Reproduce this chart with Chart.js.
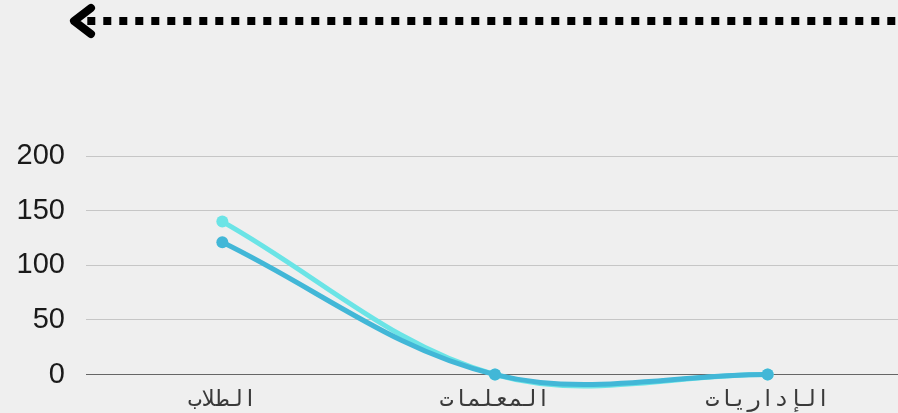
<!DOCTYPE html>
<html>
<head>
<meta charset="utf-8">
<script src="https://cdn.jsdelivr.net/npm/chart.js@4"></script>
<style>
    html, body {
        margin: 0;
        padding: 0;
        background: #efefef;
        overflow: hidden;
    }
    #wrap {
        position: relative;
        width: 910px;
        height: 413px;
    }
    #arrow {
        position: absolute;
        left: 0;
        top: 0;
    }
</style>
</head>
<body>
<div id="wrap">
    <svg id="arrow" width="898" height="45">
        <line x1="87.3" y1="21" x2="898" y2="21" stroke="#000" stroke-width="8" stroke-dasharray="8 8"></line>
        <polyline points="91,8 74,21 91,34" fill="none" stroke="#000" stroke-width="8" stroke-linecap="round" stroke-linejoin="round"></polyline>
    </svg>
    <canvas id="staff_chart" width="910" height="413"></canvas>
</div>
<script>
const categories = ["الطلاب", "المعلمات", "الإداريات"];
const series_dark = [121, 0, 0];
const series_light = [140, 0, 0];
const y_ticks = [0, 50, 100, 150, 200];

const staff_chart = document.getElementById("staff_chart");

const chart = new Chart(staff_chart, {
    type: "line",
    data: {
        labels: categories,
        datasets: [
            {
                label: "dark",
                data: series_dark,
                borderColor: "#42b7d7",
                backgroundColor: "#42b7d7",
                borderWidth: 5,
                pointRadius: 6,
                pointBorderWidth: 0,
                tension: 0.36,
                clip: false,
            },
            {
                label: "light",
                data: series_light,
                borderColor: "#6be4e6",
                backgroundColor: "#6be4e6",
                borderWidth: 5,
                pointRadius: 6,
                pointBorderWidth: 0,
                tension: 0.36,
                clip: false,
            },
        ],
    },
    options: {
        responsive: false,
        animation: false,
        layout: {
            padding: { top: 156, left: 0, right: 0, bottom: 0 },
        },
        elements: {
            line: { capBezierPoints: false },
        },
        plugins: {
            legend: { display: false },
            tooltip: { enabled: false },
        },
        scales: {
            x: {
                offset: true,
                grid: { display: false },
                border: { display: false },
                ticks: {
                    padding: 4,
                    color: "#3a3a3a",
                    font: { family: "DejaVu Sans Mono", size: 23 },
                },
                afterFit: (scale) => {
                    scale.height = 38;
                },
            },
            y: {
                min: 0,
                max: 200,
                afterBuildTicks: (scale) => {
                    scale.ticks = y_ticks.map((v) => ({ value: v }));
                },
                grid: {
                    drawTicks: false,
                    lineWidth: 1,
                    color: (ctx) => (ctx.tick && ctx.tick.value === 0 ? "#666666" : "#c6c6c6"),
                },
                border: { display: false },
                ticks: {
                    padding: 21,
                    color: "#1a1a1a",
                    font: { family: "Liberation Sans", size: 29 },
                },
                afterFit: (scale) => {
                    scale.width = 86;
                },
            },
        },
    },
});

// spaced-out category labels like the original
const xScale = chart.scales.x;
const drawLabels = xScale.drawLabels.bind(xScale);
xScale.drawLabels = (area) => {
    chart.ctx.save();
    chart.ctx.letterSpacing = "2px";
    drawLabels(area);
    chart.ctx.restore();
};
chart.draw();
</script>
</body>
</html>
